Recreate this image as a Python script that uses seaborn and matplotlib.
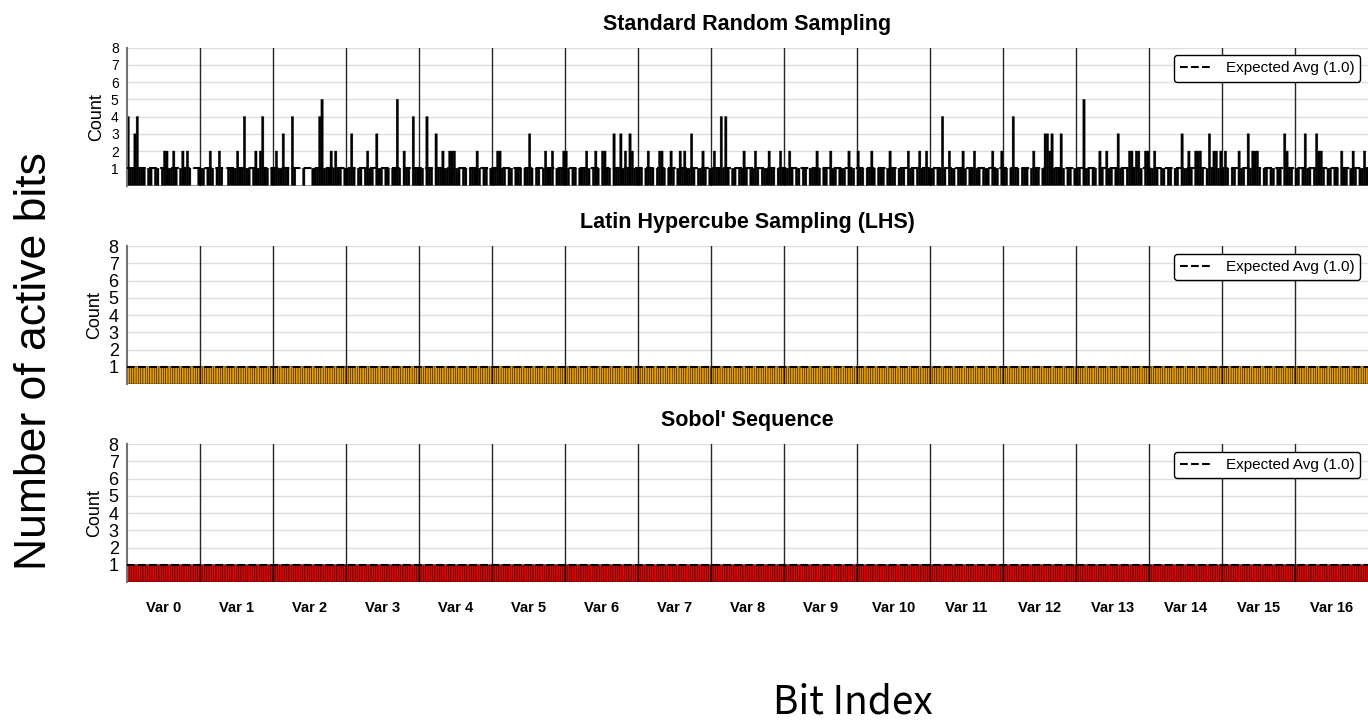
import numpy as np
import pandas as pd
import matplotlib
matplotlib.use("Agg")
import matplotlib.pyplot as plt
import seaborn as sns

# ---- data -------------------------------------------------------------
BITS_PER_VAR = 32
var_names = [f"Var {i}" for i in range(17)]

# Standard random sampling: activations per bit, one list per variable
rs_var00 = [4,1,1,3,4,1,1,1,0,1,1,0,1,1,0,1,2,2,1,1,2,1,0,1,2,1,2,1,0,0,0,1]
rs_var01 = [1,1,0,1,2,1,0,1,2,1,0,0,1,1,1,1,2,1,1,4,1,1,0,1,2,1,2,4,1,1,0,1]
rs_var02 = [1,2,1,1,3,1,1,0,4,1,0,0,0,1,0,0,0,1,1,1,4,5,1,1,1,2,1,2,1,1,0,1]
rs_var03 = [1,1,3,1,0,1,1,0,1,2,1,1,0,3,1,1,0,1,1,0,1,1,5,1,0,2,1,1,0,4,1,1]
rs_var04 = [1,1,0,4,1,1,0,3,1,1,2,1,1,2,2,2,1,1,0,1,1,0,1,1,1,2,1,0,1,1,0,1]
rs_var05 = [1,1,2,2,1,1,0,1,1,0,1,1,1,0,1,1,3,1,0,1,1,0,1,2,1,1,2,0,1,1,1,2]
rs_var06 = [2,1,0,1,1,0,1,1,1,2,1,0,1,2,1,0,2,2,1,1,0,3,1,1,3,1,2,1,3,2,1,1]
rs_var07 = [1,1,0,1,2,1,1,0,1,2,2,1,0,1,2,1,0,1,2,1,2,1,1,3,1,0,1,1,2,1,0,1]
rs_var08 = [1,2,1,1,4,1,4,1,0,1,1,0,1,1,2,1,0,1,1,2,1,0,1,1,1,2,1,1,0,1,2,1]
rs_var09 = [1,1,2,1,0,1,1,0,1,1,0,1,1,1,2,1,0,1,1,0,2,1,1,0,1,1,1,0,2,1,1,0]
rs_var10 = [2,1,1,0,1,1,2,1,0,1,1,1,0,1,2,1,1,0,1,1,1,0,2,1,1,0,1,2,1,1,2,1]
rs_var11 = [1,1,0,1,1,4,1,0,2,1,1,0,1,1,2,1,0,1,1,2,1,1,0,1,1,1,0,2,1,1,0,2]
rs_var12 = [1,1,0,1,4,1,1,0,1,1,1,0,1,2,1,1,0,1,3,3,2,3,1,1,1,3,1,0,1,1,0,1]
rs_var13 = [1,1,0,5,1,1,0,1,1,0,2,1,0,2,1,1,0,1,3,1,1,0,1,2,2,1,2,2,1,0,2,2]
rs_var14 = [1,1,2,1,0,1,1,0,1,1,0,1,1,0,3,1,1,2,1,0,2,2,2,1,0,1,3,1,2,2,1,2]
rs_var15 = [1,2,1,0,1,1,0,2,1,1,0,3,1,2,2,2,1,0,1,1,0,1,1,0,1,1,0,3,2,1,1,0]
rs_var16 = [1,1,0,1,3,1,1,0,1,3,2,2,1,0,1,1,0,1,1,0,2,1,1,0,1,2,1,0,1,1,2,1]

random_counts = (rs_var00 + rs_var01 + rs_var02 + rs_var03 + rs_var04 + rs_var05
                 + rs_var06 + rs_var07 + rs_var08 + rs_var09 + rs_var10 + rs_var11
                 + rs_var12 + rs_var13 + rs_var14 + rs_var15 + rs_var16)
n_bits = len(random_counts)

# LHS and Sobol' hit every bit exactly once
lhs_counts = [1] * n_bits
sobol_counts = [1] * n_bits

expected_avg = 1.0

panels = [
    ("Standard Random Sampling", random_counts, "#000000", 10),
    ("Latin Hypercube Sampling (LHS)", lhs_counts, "#E89E00", 13),
    ("Sobol' Sequence", sobol_counts, "#E60000", 13),
]

# ---- figure -----------------------------------------------------------
sns.set_theme(style="whitegrid")
plt.rcParams["font.family"] = ["Liberation Sans", "DejaVu Sans"]
plt.rcParams["text.color"] = "black"
plt.rcParams["axes.labelcolor"] = "black"
plt.rcParams["xtick.color"] = "black"
plt.rcParams["ytick.color"] = "black"

fig = plt.figure(figsize=(13.68, 7.22), dpi=100)
left, width, height = 127 / 1368, 1 - 127 / 1368, 137.8 / 722
bottoms = [1 - 185.5 / 722, 1 - 384 / 722, 1 - 582 / 722]

bit_idx = np.arange(n_bits)
for k, (title, counts, color, ytick_size) in enumerate(panels):
    ax = fig.add_axes([left, bottoms[k], width, height])
    df = pd.DataFrame({"bit": bit_idx, "count": counts})
    sns.barplot(data=df, x="bit", y="count", color=color, saturation=1,
                edgecolor="black", linewidth=0.3, width=1.0, errorbar=None, ax=ax)
    for p in ax.patches:
        p.set_snap(False)

    # variable boundaries
    for v in range(1, len(var_names)):
        ax.axvline(v * BITS_PER_VAR - 0.5, color="black", linewidth=1.0,
                   alpha=0.85, zorder=3)

    ax.axhline(expected_avg, color="black", linestyle="--", linewidth=1.5,
               label=f"Expected Avg ({expected_avg:.1f})", zorder=4)

    ax.set_xlim(-0.5, n_bits - 0.5)
    ax.set_ylim(0, 8)
    ax.set_yticks(range(1, 9))
    ax.tick_params(axis="y", labelsize=ytick_size, pad=6, length=0)
    ax.grid(axis="x", visible=False)
    ax.grid(axis="y", color="#dddddd", linewidth=1)
    ax.set_title(title, fontsize=15.5, fontweight="bold", pad=13)
    ax.set_ylabel("Count", fontsize=13, labelpad=4)
    ax.set_xlabel("")

    centers = [v * BITS_PER_VAR + BITS_PER_VAR / 2 - 0.5 for v in range(len(var_names))]
    ax.set_xticks(centers)
    if k == len(panels) - 1:
        ax.set_xticklabels(var_names, fontsize=10.5, fontweight="bold")
        ax.tick_params(axis="x", pad=14, length=0)
    else:
        ax.set_xticklabels([])
        ax.tick_params(axis="x", length=0)

    for side in ("top", "right", "bottom"):
        ax.spines[side].set_visible(False)
    ax.spines["left"].set_color("0.45")
    ax.spines["left"].set_linewidth(1.5)

    leg = ax.legend(loc="upper right", fontsize=11, frameon=True, fancybox=True,
                    borderaxespad=0.5, handlelength=2.2)
    leg.get_frame().set_edgecolor("black")
    leg.get_frame().set_linewidth(1.0)
    leg.get_frame().set_alpha(1.0)

fig.text(35 / 1368, 0.5, "Number of active bits", rotation=90, fontsize=32,
         ha="center", va="center")
fig.text(853 / 1368, 1 - 702 / 722, "Bit Index", fontsize=28,
         family=["Noto Sans CJK JP", "DejaVu Sans"], ha="center", va="center")

fig.savefig("out.png", dpi=100)
